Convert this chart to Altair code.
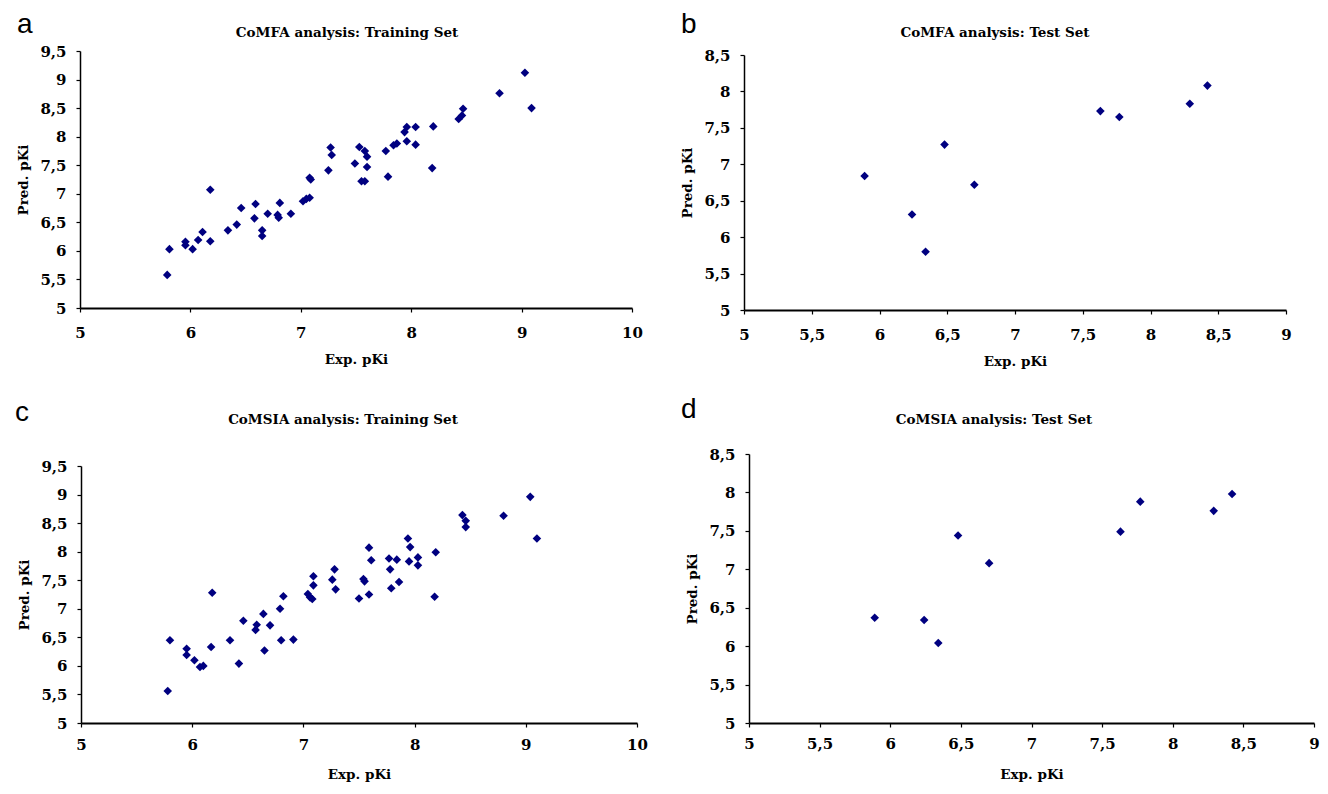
import altair as alt
import pandas as pd

# ---------------- data ----------------
# Panel a: CoMFA training set
a_exp = [5.79, 5.81, 5.955, 5.955, 6.02, 6.07, 6.11, 6.18, 6.18, 6.34, 6.42, 6.46,
         6.58, 6.59, 6.65, 6.65, 6.70, 6.79, 6.80, 6.81, 6.91, 7.02, 7.05, 7.08,
         7.08, 7.09, 7.25, 7.27, 7.28, 7.49, 7.53, 7.58, 7.60, 7.60, 7.55, 7.58,
         7.77, 7.79, 7.84, 7.87, 7.94, 7.96, 7.96, 8.04, 8.04, 8.20, 8.19, 8.43,
         8.46, 8.47, 8.80, 9.03, 9.09]
a_pred = [5.58, 6.03, 6.16, 6.10, 6.03, 6.19, 6.33, 6.17, 7.07, 6.36, 6.46, 6.75,
          6.57, 6.82, 6.36, 6.26, 6.65, 6.63, 6.58, 6.84, 6.65, 6.87, 6.91, 6.93,
          7.28, 7.25, 7.41, 7.81, 7.68, 7.53, 7.82, 7.75, 7.65, 7.47, 7.22, 7.22,
          7.75, 7.30, 7.85, 7.88, 8.08, 8.17, 7.92, 8.17, 7.86, 8.18, 7.45, 8.31,
          8.37, 8.49, 8.76, 9.12, 8.50]

# Panel b / d: test set (same experimental values)
t_exp = [5.89, 6.24, 6.34, 6.48, 6.70, 7.63, 7.77, 8.29, 8.42]
b_pred = [6.84, 6.31, 5.80, 7.27, 6.72, 7.73, 7.65, 7.83, 8.08]
d_pred = [6.37, 6.34, 6.04, 7.44, 7.08, 7.49, 7.88, 7.76, 7.98]

# Panel c: CoMSIA training set
c_exp = [5.78, 5.80, 5.95, 5.95, 6.02, 6.07, 6.10, 6.17, 6.18, 6.34, 6.42, 6.46,
         6.57, 6.58, 6.64, 6.65, 6.70, 6.79, 6.80, 6.82, 6.91, 7.04, 7.06, 7.08,
         7.09, 7.09, 7.26, 7.28, 7.29, 7.50, 7.54, 7.55, 7.59, 7.59, 7.61, 7.77,
         7.78, 7.79, 7.84, 7.86, 7.94, 7.96, 7.95, 8.03, 8.03, 8.19, 8.18, 8.43,
         8.46, 8.46, 8.80, 9.04, 9.10]
c_pred = [5.56, 6.45, 6.30, 6.19, 6.10, 5.98, 6.00, 6.33, 7.28, 6.45, 6.04, 6.79,
          6.63, 6.72, 6.91, 6.27, 6.71, 7.00, 6.45, 7.22, 6.46, 7.26, 7.20, 7.17,
          7.57, 7.41, 7.51, 7.69, 7.34, 7.18, 7.52, 7.48, 8.07, 7.25, 7.85, 7.88,
          7.69, 7.36, 7.86, 7.47, 8.23, 8.08, 7.83, 7.90, 7.76, 7.99, 7.21, 8.64,
          8.54, 8.43, 8.63, 8.96, 8.23]

letters = ["a", "b", "c", "d"]
titles = ["CoMFA analysis: Training Set", "CoMFA analysis: Test Set",
          "CoMSIA analysis: Training Set", "CoMSIA analysis: Test Set"]
x_title = "Exp. pKi"
y_title = "Pred. pKi"
train_x_ticks = [5, 6, 7, 8, 9, 10]
train_y_ticks = [5, 5.5, 6, 6.5, 7, 7.5, 8, 8.5, 9, 9.5]
test_x_ticks = [5, 5.5, 6, 6.5, 7, 7.5, 8, 8.5, 9]
test_y_ticks = [5, 5.5, 6, 6.5, 7, 7.5, 8, 8.5]

# ---------------- layout ----------------
W, H = 1312, 778
M = 8  # page margin
SERIF = "DejaVu Serif"
NAVY = "#000080"

# (x_left, x_right, y_bottom, y_top) in page pixels
geo = {
    "a": (80, 632, 308, 51),
    "b": (744, 1286, 310, 55),
    "c": (81, 637, 723, 466),
    "d": (749, 1314, 723, 454),
}


def panel(exp, pred, key, xdom, ydom, xticks, yticks, lab_pad_x, title_pad_x):
    x0, x1, yb, yt = geo[key]
    df = pd.DataFrame({"exp": exp, "pred": pred})
    fmt = "replace(datum.label, '.', ',')"
    return alt.Chart(df).mark_point(
        shape="diamond", filled=True, size=74, color=NAVY, opacity=1, clip=False
    ).encode(
        x=alt.X("exp:Q",
                scale=alt.Scale(domain=xdom, range=[x0 - M, x1 - M], nice=False, zero=False),
                axis=alt.Axis(orient="bottom", offset=(yb - M) - H, values=xticks,
                              format="~r", labelExpr=fmt, title=x_title, grid=False,
                              domainColor="black", domainWidth=2, tickColor="black",
                              tickSize=4, tickWidth=1.2,
                              labelFont=SERIF, labelFontWeight="bold", labelFontSize=15,
                              labelColor="black", labelPadding=lab_pad_x,
                              titleFont=SERIF, titleFontWeight="bold", titleFontSize=13.5,
                              titleColor="black", titlePadding=title_pad_x,
                              labelFlush=False, labelOverlap=False)),
        y=alt.Y("pred:Q",
                scale=alt.Scale(domain=ydom, range=[yb - M, yt - M], nice=False, zero=False),
                axis=alt.Axis(orient="left", offset=-(x0 - M), values=yticks,
                              format="~r", labelExpr=fmt, title=y_title, grid=False,
                              domainColor="black", domainWidth=1.5, tickColor="black",
                              tickSize=4, tickWidth=1.2,
                              labelFont=SERIF, labelFontWeight="bold", labelFontSize=15,
                              labelColor="black", labelPadding=10,
                              titleFont=SERIF, titleFontWeight="bold", titleFontSize=13.5,
                              titleColor="black", titlePadding=9,
                              labelFlush=False, labelOverlap=False)),
    )


pa = panel(a_exp, a_pred, "a", [5, 10], [5, 9.5], train_x_ticks, train_y_ticks, 13, 12)
pb = panel(t_exp, b_pred, "b", [5, 9], [5, 8.5], test_x_ticks, test_y_ticks, 13, 12)
pc = panel(c_exp, c_pred, "c", [5, 10], [5, 9.5], train_x_ticks, train_y_ticks, 10, 15)
pd_ = panel(t_exp, d_pred, "d", [5, 9], [5, 8.5], test_x_ticks, test_y_ticks, 9, 16)

# panel letters and titles
letter_pos = [(17, 33), (681, 33), (15, 421), (681, 418)]
title_pos = [(347, 33), (995, 33), (343, 420), (994, 420)]

text_layers = []
for lt, (lx, ly) in zip(letters, letter_pos):
    text_layers.append(
        alt.Chart().mark_text(text=lt, font="Liberation Sans", fontSize=28,
                              fontWeight="normal", align="left", baseline="alphabetic",
                              color="black")
        .encode(x=alt.value(lx - M), y=alt.value(ly - M))
    )
for tt, (tx, ty) in zip(titles, title_pos):
    text_layers.append(
        alt.Chart().mark_text(text=tt, font=SERIF, fontSize=13.5, fontWeight="bold",
                              align="center", baseline="middle", color="black")
        .encode(x=alt.value(tx - M), y=alt.value(ty - M))
    )

chart = alt.layer(pa, pb, pc, pd_, *text_layers).resolve_scale(
    x="independent", y="independent"
).resolve_axis(
    x="independent", y="independent"
).properties(
    width=W, height=H, padding=0,
    autosize=alt.AutoSizeParams(type="none"),
    background="white",
).configure_view(stroke=None)

chart.save("out.html", embed_options={"renderer": "svg", "actions": False})
